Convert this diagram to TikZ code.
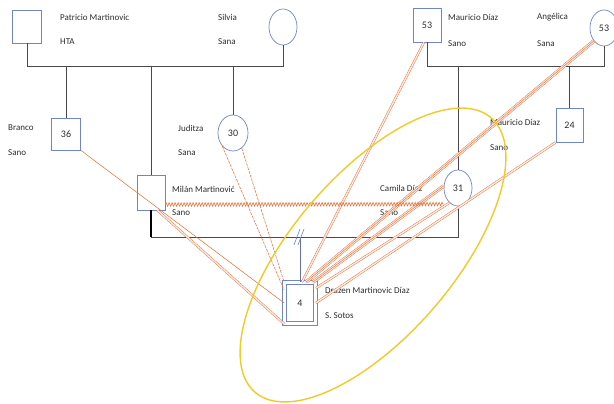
\documentclass[tikz,border=0pt]{standalone}
\usepackage{fontspec}
\setmainfont{Carlito}
\usetikzlibrary{shapes.geometric,decorations.pathmorphing}

\definecolor{azul}{RGB}{112,134,196}
\definecolor{gris}{RGB}{72,72,80}
\definecolor{naranja}{RGB}{224,118,64}
\definecolor{amarillo}{RGB}{240,202,40}
\definecolor{texto}{RGB}{45,45,45}

\tikzset{
  hombre/.style={draw=azul, line width=0.7pt, rectangle, inner sep=0pt,
    minimum width=29pt, minimum height=33pt,
    font=\fontsize{10}{12}\selectfont, text=texto},
  mujer/.style={draw=azul, line width=0.7pt, ellipse, inner sep=0pt,
    minimum width=28pt, minimum height=36pt,
    font=\fontsize{10}{12}\selectfont, text=texto},
  etiqueta/.style={anchor=west, inner sep=0pt,
    font=\fontsize{9}{11}\selectfont, text=texto},
  linea/.style={draw=gris, line width=0.7pt},
  lejano/.style={draw=naranja, line width=0.55pt},
  cercano/.style={draw=naranja, line width=0.45pt, double=naranja!15,
    double distance=1.4pt},
  unido/.style={draw=naranja, line width=0.45pt,
    preaction={draw=naranja, line width=0.45pt, double=naranja!15,
      double distance=2.6pt}},
  conflicto/.style={draw=naranja, line width=0.6pt, decorate,
    decoration={zigzag, segment length=3pt, amplitude=1.8pt}},
}

\begin{document}
\begin{tikzpicture}[x=1pt, y=-1pt]

  \useasboundingbox (0,0) rectangle (614,404);

  % Abuelos paternos
  \node[hombre] (patricio) at (27,26.5) {};
  \node[mujer] (silvia) at (283,27) {};

  % Abuelos maternos
  \node[hombre, minimum width=28pt, minimum height=34pt] (mauricio) at (427,25) {53};
  \node[mujer] (angelica) at (604,28) {53};

  % Hijos
  \node[hombre, minimum height=32pt] (branco) at (66,134) {36};
  \node[mujer, minimum width=30pt] (juditza) at (233,133) {30};
  \node[hombre, minimum width=28pt, minimum height=35pt] (milan) at (151,192.5) {};
  \node[mujer] (camila) at (458,188) {31};
  \node[hombre, minimum width=27pt, minimum height=34pt] (hijo24) at (569.5,125) {24};

  % Paciente identificado
  \node[hombre, double, double distance=3pt, minimum width=31pt,
    minimum height=41pt] (drazen) at (300,303) {4};

  % Textos
  \foreach \n/\x/\y/\t in {
      pat1/60/17/Patricio Martinovic, pat2/60/42/HTA,
      sil1/218/17/Silvia, sil2/218/42/Sana,
      bra1/8/128/Branco, bra2/8/153/Sano,
      jud1/178/128/Juditza, jud2/178/153/Sana,
      mil1/172/189/Milán Martinović, mil2/172/213/Sano,
      mau1/448/17/Mauricio Díaz, mau2/448/44/Sano,
      ang1/537/17/Angélica, ang2/537/44/Sana,
      hij1/490/122/Mauricio Díaz, hij2/490/148/Sano,
      cam1/380/188/Camila Díaz, cam2/380/213/Sano,
      dra1/325/290/Drazen Martinovic Díaz, dra2/325/316/S. Sotos}
    \node[etiqueta] (\n) at (\x,\y) {\t};

  % Lineas de familia
  \coordinate (hermanos) at (0,66);
  \coordinate (pareja) at (300,237);

  \draw[linea] (patricio.south) -- (patricio.south |- hermanos)
    -| (silvia.south);
  \draw[linea] (mauricio.south) -- (mauricio.south |- hermanos)
    -| (angelica.south);
  \foreach \h in {branco, juditza, milan, camila, hijo24}
    \draw[linea] (\h.north |- hermanos) -- (\h.north);

  \draw[linea] (milan.south |- pareja) -- (camila.south |- pareja)
    -- (camila.south);
  \draw[black, line width=1.1pt] (milan.south) -- (milan.south |- pareja);

  % Separacion y hijo
  \draw[azul!70!gris, line width=0.7pt] (pareja) -- (drazen.north);
  \draw[azul, line width=0.6pt] (pareja) ++(-6,8) -- ++(6,-16)
    (pareja) ++(-2,8) -- ++(6,-16);

  % Relaciones con Drazen
  \draw[lejano] (branco.south east) -- (drazen.west);
  \draw[cercano] (milan.-70) -- (drazen.south west);
  \draw[lejano, dash pattern=on 3pt off 1pt] (juditza.south west)
    -- ([yshift=-8pt]drazen.north west);
  \draw[lejano, dash pattern=on 3pt off 1pt] (juditza.-60)
    -- (drazen.north west);
  \draw[cercano] (mauricio.-100) -- ([xshift=2pt]drazen.north);
  \draw[unido] (angelica.south west) -- ([xshift=6pt]drazen.north);
  \draw[unido] ([yshift=2pt]camila.west) -- ([xshift=-3pt]drazen.north east);
  \draw[cercano] (camila.-120) -- ([yshift=-6pt]drazen.north east);
  \draw[cercano] (hijo24.south west) -- (drazen.east);

  % Relacion conflictiva
  \draw[conflicto] ([yshift=-12pt]milan.east) -- ([yshift=-16pt]camila.west);

  % Circulo de la familia
  \draw[amarillo, line width=1.4pt, rotate around={49.3:(373,255)}]
    (373,255) ellipse [x radius=181, y radius=80.6];

\end{tikzpicture}
\end{document}
